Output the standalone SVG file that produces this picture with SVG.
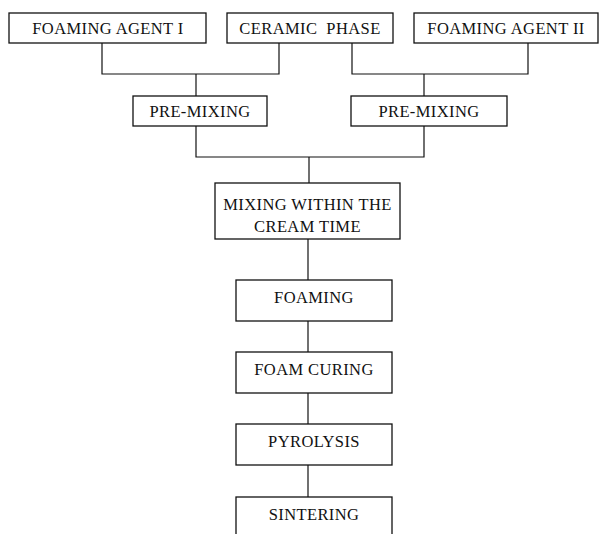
<svg xmlns="http://www.w3.org/2000/svg" width="603" height="534" viewBox="0 0 603 534">
<style>
.box{fill:#fff;stroke:#111;stroke-width:1.3}
.t{font-family:"Liberation Serif","Times New Roman",serif;font-size:16.5px;letter-spacing:0.4px;fill:#111;text-anchor:middle}
.c{fill:none;stroke:#111;stroke-width:1.2}
</style>
<rect width="603" height="534" fill="#fff"/>
<g id="connectors">
<polyline class="c" points="102,43 102,74 279,74 279,43"/>
<line class="c" x1="196" y1="74" x2="196" y2="96"/>
<polyline class="c" points="352,43 352,74 528,74 528,43"/>
<line class="c" x1="424" y1="74" x2="424" y2="96"/>
<polyline class="c" points="196,126 196,157 424,157 424,126"/>
<line class="c" x1="309" y1="157" x2="309" y2="183"/>
<line class="c" x1="308" y1="239" x2="308" y2="280"/>
<line class="c" x1="308" y1="321" x2="308" y2="352"/>
<line class="c" x1="308" y1="393" x2="308" y2="424"/>
<line class="c" x1="308" y1="465" x2="308" y2="497"/>
</g>
<g id="foaming-agent-1"><rect class="box" x="9" y="13" width="197" height="30"/><text class="t" x="108" y="34">FOAMING AGENT I</text></g>
<g id="ceramic-phase"><rect class="box" x="227" y="13" width="166" height="30"/><text class="t" x="310" y="34" xml:space="preserve">CERAMIC  PHASE</text></g>
<g id="foaming-agent-2"><rect class="box" x="414" y="13" width="184" height="30"/><text class="t" x="506" y="34">FOAMING AGENT II</text></g>
<g id="pre-mixing-1"><rect class="box" x="133" y="96" width="134" height="30"/><text class="t" x="200" y="117">PRE-MIXING</text></g>
<g id="pre-mixing-2"><rect class="box" x="351" y="96" width="156" height="30"/><text class="t" x="429" y="117">PRE-MIXING</text></g>
<g id="mixing"><rect class="box" x="215" y="183" width="185" height="56"/><text class="t" x="307.5" y="210">MIXING WITHIN THE</text><text class="t" x="307.5" y="232">CREAM TIME</text></g>
<g id="foaming"><rect class="box" x="236" y="280" width="156" height="41"/><text class="t" x="314" y="303">FOAMING</text></g>
<g id="foam-curing"><rect class="box" x="236" y="352" width="156" height="41"/><text class="t" x="314" y="375">FOAM CURING</text></g>
<g id="pyrolysis"><rect class="box" x="236" y="424" width="156" height="41"/><text class="t" x="314" y="447">PYROLYSIS</text></g>
<g id="sintering"><rect class="box" x="236" y="497" width="156" height="45"/><text class="t" x="314" y="520">SINTERING</text></g>
</svg>
